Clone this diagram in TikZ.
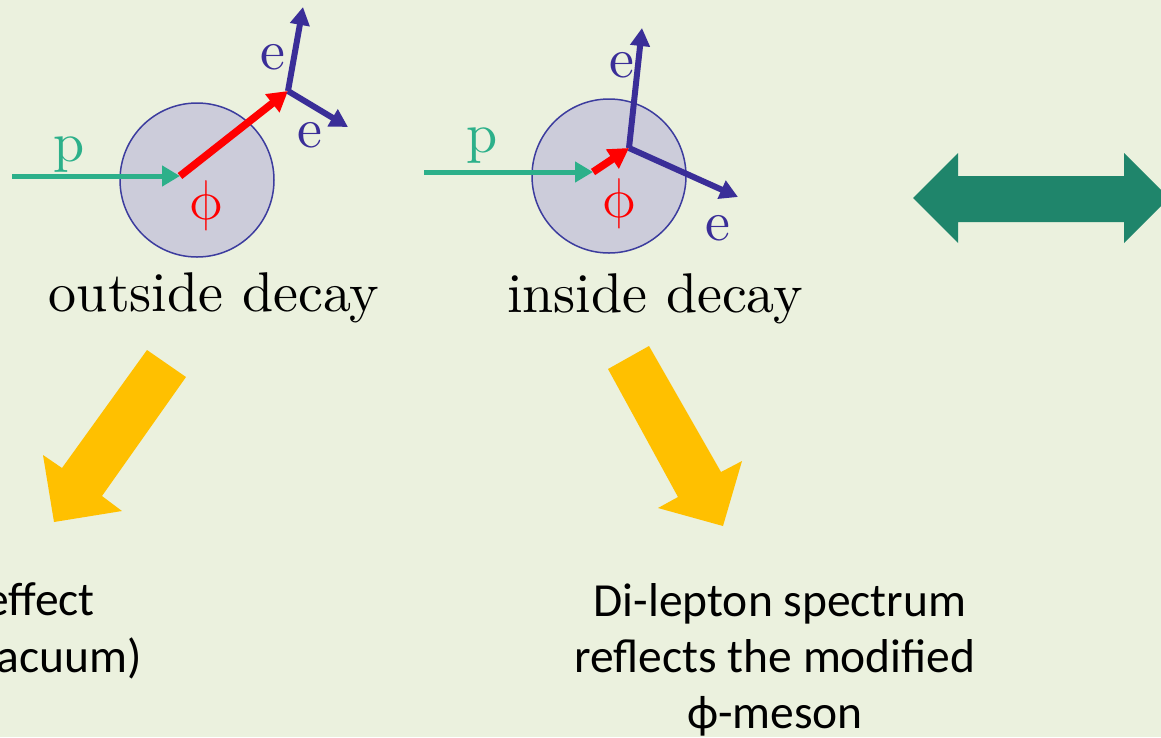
\documentclass[tikz,border=0pt]{standalone}
\usepackage{fontspec}
\newfontfamily\calib{Carlito}
\newfontfamily\lmten{lmroman10-regular.otf}
\newfontfamily\lmm{latinmodern-math.otf}
\usetikzlibrary{arrows.meta}
\definecolor{bg}{HTML}{EBF1DE}
\definecolor{nucfill}{HTML}{CCCCDA}
\definecolor{nucline}{HTML}{3C3C9E}
\definecolor{protcol}{HTML}{2CB08A}
\definecolor{phicol}{HTML}{FF0000}
\definecolor{elcol}{HTML}{3A2E98}
\definecolor{dgreen}{HTML}{1F856B}
\definecolor{yarrow}{HTML}{FFC000}
\tikzset{
  nucleus/.style={circle, draw=nucline, fill=nucfill, line width=1.5pt, minimum size=154pt, inner sep=0pt},
  lab/.style={inner sep=0pt, font=\lmten\fontsize{56}{60}\selectfont},
  phlab/.style={inner sep=0pt, text=phicol, font=\lmm\fontsize{56}{60}\selectfont},
  btext/.style={inner sep=0pt, font=\calib\fontsize{47.5}{56}\selectfont},
  protarrow/.style={draw=protcol, line width=5pt, -{Triangle[length=18pt,width=20pt]}},
  phiarrow/.style={draw=phicol, line width=7.5pt, -{Triangle[length=20pt,width=22pt]}},
  elarrow/.style={draw=elcol, line width=6pt, -{Triangle[length=18pt,width=19pt]}},
}
\begin{document}
\begin{tikzpicture}[x=1pt,y=-1pt]
\fill[bg] (0,0) rectangle (1161,737);
\useasboundingbox (0,0) rectangle (1161,737);

% ---- outside decay ----
\node[nucleus] (nuc1) at (197,180) {};
\coordinate (p1s) at (12,176);
\coordinate (v1a) at (180,176);
\coordinate (v1b) at (288,91);
\coordinate (e1a) at (303,7);
\coordinate (e1b) at (348,127);
\draw[protarrow] (p1s) -- (v1a);
\draw[phiarrow] (v1a) -- (v1b);
\draw[elarrow] (v1b) -- (e1a);
\draw[elarrow] (v1b) -- (e1b);
\node[lab, text=protcol] (p1) at (69,155) {p};
\node[phlab] (phi1) at (206,206) {ϕ};
\node[lab, text=elcol] (el1a) at (273,57) {e};
\node[lab, text=elcol] (el1b) at (310,135) {e};
\node[lab, anchor=base] (t1) at (214,311) {outside decay};

% ---- inside decay ----
\node[nucleus] (nuc2) at (609,176) {};
\coordinate (p2s) at (424,172);
\coordinate (v2a) at (593,172);
\coordinate (v2b) at (629,148);
\coordinate (e2a) at (642,28);
\coordinate (e2b) at (738,197);
\draw[protarrow] (p2s) -- (v2a);
\draw[phiarrow] (v2a) -- (v2b);
\draw[elarrow] (v2b) -- (e2a);
\draw[elarrow] (v2b) -- (e2b);
\node[lab, text=protcol] (p2) at (482,146) {p};
\node[phlab] (phi2) at (619,204) {ϕ};
\node[lab, text=elcol] (el2a) at (622,65) {e};
\node[lab, text=elcol] (el2b) at (718,228) {e};
\node[lab, anchor=base] (t2) at (655,312) {inside decay};

% ---- double arrow ----
\fill[dgreen] (913,198) -- (958,153) -- (958,176) -- (1124,176) -- (1124,153)
  -- (1169,198) -- (1124,243) -- (1124,222) -- (958,222) -- (958,243) -- cycle;

% ---- yellow arrows ----
\fill[yarrow] (147,350) -- (186,377) -- (102,496) -- (122,511) -- (54,522)
  -- (43,455) -- (62,468) -- cycle;
\fill[yarrow] (608,369) -- (649,346) -- (721,472) -- (742,461) -- (723,526)
  -- (658,508) -- (678,497) -- cycle;

% ---- bottom texts ----
\node[btext, anchor=base east] (l1) at (95,615) {effect};
\node[btext, anchor=base east] (l2) at (142,672) {acuum)};
\node[btext, anchor=base] (r1) at (780,616) {Di-lepton spectrum};
\node[btext, anchor=base] (r2) at (775,672) {reflects the modified};
\node[btext, anchor=base] (r3) at (775,728) {ϕ-meson};
\end{tikzpicture}
\end{document}
